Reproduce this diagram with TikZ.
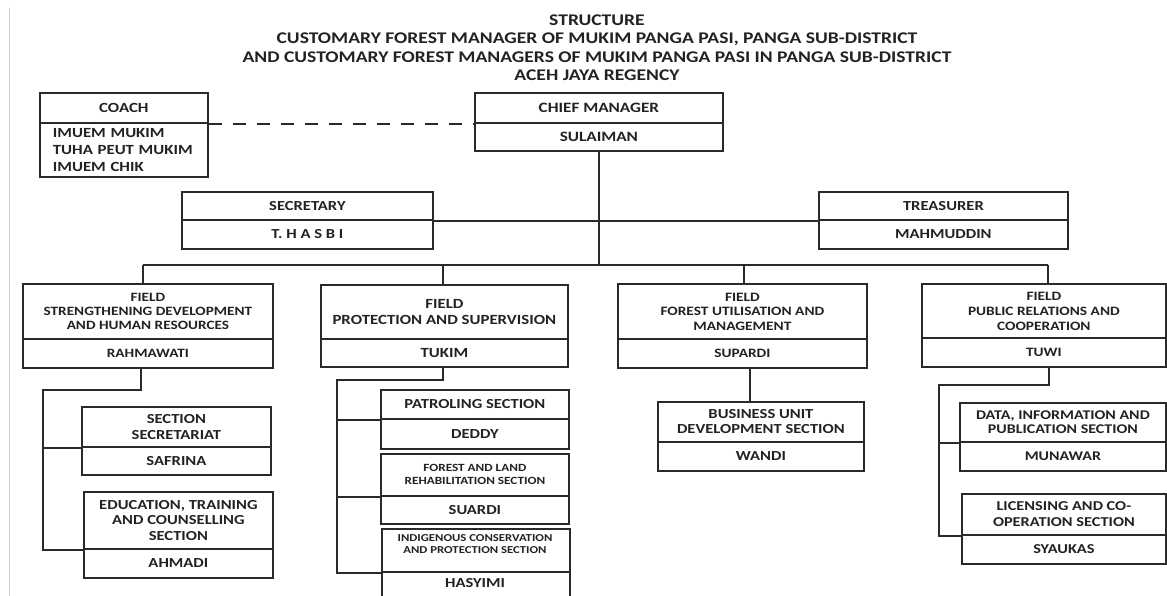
\documentclass[tikz,border=0pt]{standalone}
\usepackage{fontspec}
\newfontfamily\cfont[FakeStretch=1.2]{Carlito}
\definecolor{ink}{HTML}{222222}
\definecolor{edge}{HTML}{2A2A2A}
\newcommand\fs[2]{\fontsize{#1}{#2}\selectfont}
\tikzset{
  part/.style={draw=edge, line width=1.8pt, fill=white, rectangle, inner sep=0pt,
    anchor=north west, align=center, text=ink},
  conn/.style={draw=edge, line width=1.5pt, line join=miter},
  ttl/.style={align=center, text=ink, font=\cfont\bfseries\fs{16.3}{18.5}},
  lbl/.style={text=ink, inner sep=0pt, align=center},
}
% #1 name, #2 x1, #3 y1, #4 x2, #5 ydiv, #6 y2, #7 font, #8 top text, #9 bottom text
\newcommand\tbox[9]{%
  \node[part, minimum width={(#4-#2)*1pt}, minimum height={(#5-#3)*1pt}, font=#7] (#1t) at (#2,#3) {#8};
  \node[part, minimum width={(#4-#2)*1pt}, minimum height={(#6-#5)*1pt}, font=#7] (#1b) at (#2,#5) {#9};
}
\begin{document}
\begin{tikzpicture}[x=1pt,y=-1pt]
\clip (0,0) rectangle (1167,596);
\fill[white] (0,0) rectangle (1167,596);
\draw[black!18, line width=0.8pt] (9,8) -- (9,596);

\node[ttl] (title) at (597,47.5) {STRUCTURE\\CUSTOMARY FOREST MANAGER OF MUKIM PANGA PASI, PANGA SUB-DISTRICT\\AND CUSTOMARY FOREST MANAGERS OF MUKIM PANGA PASI IN PANGA SUB-DISTRICT\\ACEH JAYA REGENCY};

% coach
\node[part, minimum width=168pt, minimum height=30pt, font=\cfont\bfseries\fs{14}{16}] (coacht) at (39,92) {COACH};
\node[part, minimum width=168pt, minimum height=54pt, align=left, text width=142pt,
  font=\cfont\bfseries\fs{14}{16.8}] (coachb) at (39,122) {IMUEM MUKIM\\TUHA PEUT MUKIM\\IMUEM CHIK};

\tbox{chief}{474}{92}{722}{122}{150}{\cfont\bfseries\fs{14.3}{16}}{CHIEF MANAGER}{SULAIMAN}
\tbox{sec}{181}{191}{432}{219}{248}{\cfont\bfseries\fs{13.8}{16}}{SECRETARY}{T. H A S B I}
\tbox{tre}{818}{191}{1067}{219}{248}{\cfont\bfseries\fs{13.8}{16}}{TREASURER}{MAHMUDDIN}

\tbox{Fa}{22}{283}{272}{338}{367}{\cfont\bfseries\fs{12.7}{14}}{FIELD\\STRENGTHENING DEVELOPMENT\\AND HUMAN RESOURCES}{RAHMAWATI}
\tbox{Fb}{320}{284}{567}{338}{366}{\cfont\bfseries\fs{14}{16.5}}{FIELD\\PROTECTION AND SUPERVISION}{TUKIM}
\tbox{Fc}{617}{283}{866}{338}{367}{\cfont\bfseries\fs{12.8}{14.5}}{FIELD\\FOREST UTILISATION AND\\MANAGEMENT}{SUPARDI}
\tbox{Fd}{921}{283}{1165}{337}{366}{\cfont\bfseries\fs{12.8}{15}}{FIELD\\PUBLIC RELATIONS AND\\COOPERATION}{TUWI}

\tbox{Saa}{81}{406}{270}{446}{474}{\cfont\bfseries\fs{13.8}{16}}{SECTION\\SECRETARIAT}{SAFRINA}
\tbox{Sab}{83}{491}{272}{548}{577}{\cfont\bfseries\fs{13.8}{15.5}}{EDUCATION, TRAINING\\AND COUNSELLING\\SECTION}{AHMADI}

\tbox{Sba}{380}{389}{568}{418}{448}{\cfont\bfseries\fs{13.8}{15.5}}{PATROLING SECTION}{DEDDY}
\tbox{Sbb}{380}{453}{568}{495}{523}{\cfont\bfseries\fs{11}{13}}{FOREST AND LAND\\REHABILITATION SECTION}{\fs{13.8}{15.5}SUARDI}
\tbox{Sbc}{381}{528}{569}{571}{612}{\cfont\bfseries\fs{10.6}{12}}{}{}
\node[lbl, font=\cfont\bfseries\fs{10.6}{12}] (indig) at (475,544) {INDIGENOUS CONSERVATION\\AND PROTECTION SECTION};
\node[lbl, font=\cfont\bfseries\fs{13.8}{15.5}] (hasyimi) at (475,583) {HASYIMI};

\tbox{Sca}{657}{401}{863}{441}{470}{\cfont\bfseries\fs{13.8}{15}}{BUSINESS UNIT\\DEVELOPMENT SECTION}{WANDI}

\tbox{Sda}{959}{402}{1165}{441}{470}{\cfont\bfseries\fs{13.3}{14.5}}{DATA, INFORMATION AND\\PUBLICATION SECTION}{MUNAWAR}
\tbox{Sdb}{961}{493}{1165}{534}{563}{\cfont\bfseries\fs{13.6}{16}}{LICENSING AND CO-\\OPERATION SECTION}{SYAUKAS}

% connectors
\draw[conn, line width=2.2pt, dash pattern=on 13pt off 11pt] (coacht.south east) -- (chieft.south west);
\coordinate (bL) at (143,265);
\coordinate (bR) at (1048,265);
\coordinate (d2) at (443,265);
\coordinate (d3) at (744,265);
\draw[conn] (chiefb.south) -- (chiefb.south |- bL);
\draw[conn] (sect.south east) -- (tret.south west);
\draw[conn] (bL) -- (bR);
\draw[conn] (bL) -- (bL |- Fat.north);
\draw[conn] (d2) -- (d2 |- Fbt.north);
\draw[conn] (d3) -- (d3 |- Fct.north);
\draw[conn] (bR) -- (bR |- Fdt.north);

\coordinate (k1) at (141,390);
\coordinate (v1) at (43,390);
\draw[conn] (Fab.south -| k1) -- (k1) -- (v1) -- (v1 |- Sabt.south) -- (Sabt.south west);
\draw[conn] (v1 |- Saat.south) -- (Saat.south west);

\coordinate (k2) at (443,380);
\coordinate (v2) at (337,380);
\draw[conn] (Fbb.south -| k2) -- (k2) -- (v2) -- (v2 |- Sbct.south) -- (Sbct.south west);
\draw[conn] (v2 |- Sbat.south) -- (Sbat.south west);
\draw[conn] (v2 |- Sbbt.south) -- (Sbbt.south west);

\coordinate (k3) at (750,401);
\draw[conn] (Fcb.south -| k3) -- (k3);

\coordinate (k4) at (1049,385);
\coordinate (v4) at (939,385);
\draw[conn] (Fdb.south -| k4) -- (k4) -- (v4) -- (v4 |- Sdbt.south) -- (Sdbt.south west);
\draw[conn] (v4 |- Sdat.south) -- (Sdat.south west);
\end{tikzpicture}
\end{document}
